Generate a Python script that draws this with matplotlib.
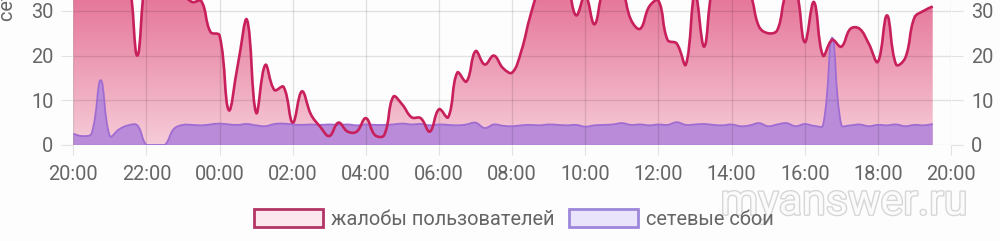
import numpy as np
import pandas as pd
import matplotlib
matplotlib.use("Agg")
import matplotlib.pyplot as plt
import matplotlib.dates as mdates
from matplotlib.colors import LinearSegmentedColormap
from matplotlib.patches import Patch, PathPatch
from matplotlib.path import Path
import matplotlib.patheffects as pe

plt.rcParams['font.family'] = ['Roboto', 'DejaVu Sans']

# 15-minute samples starting 20:00
times = pd.date_range('2020-01-01 20:00', periods=95, freq='15min')

complaints = [40, 45, 48, 44, 42, 39, 38, 20, 39, 42, 41, 38, 34, 32, 32.2,
              25.3, 24.5, 7.8, 18, 28, 7.2, 17.9, 12.3, 13, 5, 12, 6.8, 4.1, 2, 5,
              3, 3, 6, 2.2, 2.2, 10.8, 9, 6.2, 6, 3, 8, 6.2, 16.2, 14.2, 21,
              18, 20, 17.2, 16.2, 21, 29, 35, 37, 38, 36, 29, 33.5, 27, 35, 37,
              35, 28, 26, 31, 32.3, 23.5, 22.7, 18, 34, 22, 36, 37, 38, 36, 34,
              26.5, 25, 25.7, 34, 35, 23, 32, 20, 23.5, 22, 26, 26, 22.7, 18.6, 29,
              18, 19.5, 28.5, 30, 31]

outages = [2.5, 2.0, 2.6, 14.5, 2.0, 3.5, 4.4, 4.4, 0, 0, 0, 3.6, 4.5, 4.5, 4.4,
           4.6, 4.8, 4.6, 4.5, 4.7, 4.4, 4.2, 4.7, 4.8, 4.6, 4.5, 4.6, 4.5, 4.6, 4.5,
           4.6, 4.4, 4.6, 4.5, 4.5, 4.6, 4.8, 4.6, 4.7, 4.4, 4.6, 4.5, 4.4, 4.6, 5.0,
           3.8, 4.6, 4.3, 4.2, 4.4, 4.5, 4.4, 4.6, 4.5, 4.4, 4.5, 4.1, 4.4, 4.5, 4.6,
           4.9, 4.5, 4.6, 4.4, 4.6, 4.5, 5.1, 4.5, 4.6, 4.7, 4.5, 4.4, 4.6, 4.2, 4.4,
           4.9, 4.2, 4.6, 4.9, 4.2, 4.7, 4.3, 4.4, 24.0, 4.5, 4.4, 4.6, 4.2, 4.5, 4.4,
           4.6, 4.2, 4.5, 4.4, 4.7]

labels = ['жалобы пользователей', 'сетевые сбои']
y_ticks = [0, 10, 20, 30]

W, H = 1000, 241
PX_X, PX_Y = 9.12, 4.47   # pixels per sample / per unit, for the curve tension


def smooth(xs, ys, tension=0.4):
    # bezier curve through the points, like a chart.js line with tension
    xs = np.asarray(xs, float)
    ys = np.asarray(ys, float)
    n = len(xs)
    sx = PX_X / (xs[1] - xs[0])
    cp_in, cp_out = [], []
    for i in range(n):
        a, b = max(i - 1, 0), min(i + 1, n - 1)
        d01 = np.hypot((xs[i] - xs[a]) * sx, (ys[i] - ys[a]) * PX_Y)
        d12 = np.hypot((xs[b] - xs[i]) * sx, (ys[b] - ys[i]) * PX_Y)
        s = d01 + d12
        fa = tension * d01 / s if s else 0
        fb = tension * d12 / s if s else 0
        dx, dy = xs[b] - xs[a], ys[b] - ys[a]
        cp_in.append((xs[i] - fa * dx, max(ys[i] - fa * dy, 0)))
        cp_out.append((xs[i] + fb * dx, max(ys[i] + fb * dy, 0)))
    verts = [(xs[0], ys[0])]
    codes = [Path.MOVETO]
    for i in range(1, n):
        verts += [cp_out[i - 1], cp_in[i], (xs[i], ys[i])]
        codes += [Path.CURVE4] * 3
    return verts, codes


def area(verts, codes, xs):
    v = verts + [(xs[-1], 0), (xs[0], 0), (xs[0], 0)]
    c = codes + [Path.LINETO, Path.LINETO, Path.CLOSEPOLY]
    return Path(v, c)


fig = plt.figure(figsize=(W / 100, H / 100), dpi=100, facecolor='#fdfdfd')
ax = fig.add_axes([73.3 / W, 96 / H, (951 - 73.3) / W, 145 / H])
ax.set_facecolor('#fdfdfd')

x = mdates.date2num(times)
x0 = mdates.date2num(pd.Timestamp('2020-01-01 20:00'))
x1 = mdates.date2num(pd.Timestamp('2020-01-02 20:00'))
ytop = 145 / PX_Y

pv, pc = smooth(x, complaints)
ov, oc = smooth(x, outages)

# pink area with vertical gradient
cmap = LinearSegmentedColormap.from_list('pinkgrad', ['#f6ccd8', '#e6789b'])
grad = np.linspace(0, 1, 256).reshape(-1, 1)
im = ax.imshow(grad, extent=[x0, x1, 0, ytop], origin='lower', aspect='auto',
               cmap=cmap, zorder=1)
im.set_clip_path(area(pv, pc, x), transform=ax.transData)

ax.add_patch(PathPatch(area(ov, oc, x), facecolor='#b98bd9', lw=0, zorder=2))
ax.add_patch(PathPatch(Path(ov, oc), facecolor='none', edgecolor='#a06cd2',
                       lw=1.3, zorder=3))
ax.add_patch(PathPatch(Path(pv, pc), facecolor='none', edgecolor='#c8205c',
                       lw=1.9, zorder=4, joinstyle='round'))

ax.set_xlim(x0, x1)
ax.set_ylim(0, ytop)
ax.set_yticks(y_ticks)
ax.xaxis.set_major_locator(mdates.HourLocator(byhour=range(0, 24, 2)))
ax.xaxis.set_major_formatter(mdates.DateFormatter('%H:%M'))

ax.set_axisbelow(False)
ax.grid(True, color='black', alpha=0.11, lw=1)
for s in ax.spines.values():
    s.set_visible(False)

ax.tick_params(axis='y', length=8.6, width=0.8, color='#e2e2e2', pad=5.8,
               labelsize=14.4, labelcolor='#666666', right=True, labelright=True)
ax.tick_params(axis='x', length=7.2, width=0.8, color='#e2e2e2', pad=7,
               labelsize=14.4, labelcolor='#666666')

fig.text(8 / W, 1 - 21 / H, 'сетевые сбои', rotation=90, ha='center', va='bottom',
         fontsize=14.4, color='#666666')

handles = [Patch(facecolor='#fde7ee', edgecolor='#b33466', lw=2),
           Patch(facecolor='#e9e4fb', edgecolor='#9d86db', lw=2)]
fig.legend(handles, labels, loc='center', bbox_to_anchor=(514 / W, 1 - 219 / H),
           ncol=2, frameon=False, fontsize=14.4, labelcolor='#666666',
           handlelength=3.45, handleheight=1.0, handletextpad=0.4,
           columnspacing=0.75, borderpad=0)

fig.text(844 / W, 1 - 203 / H, 'myanswer.ru', ha='center', va='center',
         fontsize=31, color='#fbfbfb',
         path_effects=[pe.withStroke(linewidth=2.0, foreground='#d6d6d6')])

fig.savefig('out.png', dpi=100, facecolor=fig.get_facecolor())
